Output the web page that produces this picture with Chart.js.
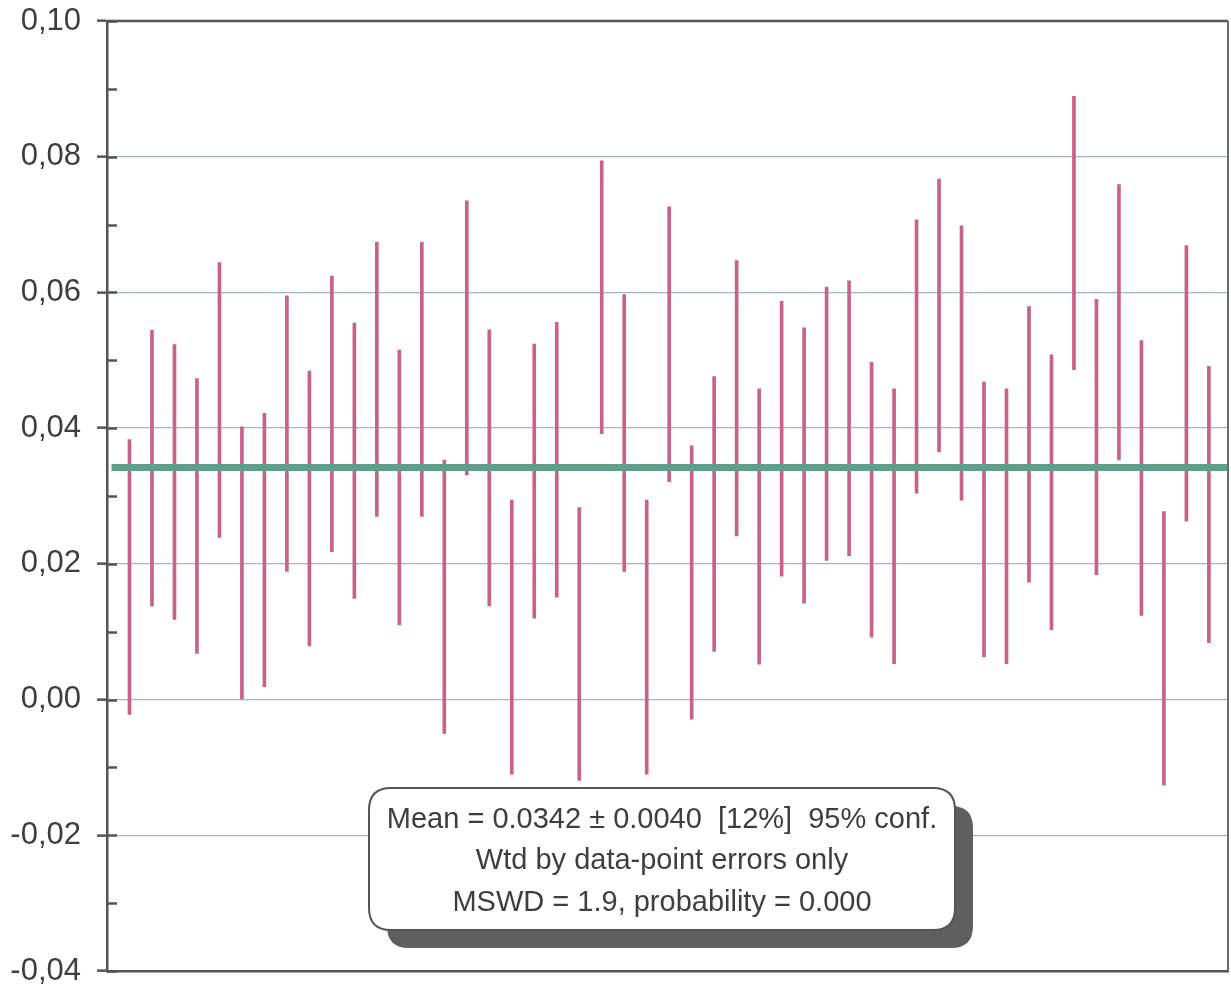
<!DOCTYPE html>
<html>
<head>
<meta charset="utf-8">
<script src="https://cdn.jsdelivr.net/npm/chart.js@4"></script>
<style>
html,body{margin:0;padding:0;background:#ffffff;}
canvas{display:block;}
</style>
</head>
<body>
<canvas id="c" width="1231" height="989"></canvas>
<script>
// ---- data ----
const pointIndex = [1,2,3,4,5,6,7,8,9,10,11,12,13,14,15,16,17,18,19,20,21,22,23,24,25,26,27,28,29,30,31,32,33,34,35,36,37,38,39,40,41,42,43,44,45,46,47,48,49];
const lowValues = [-0.0022,0.0138,0.0118,0.0068,0.0239,0.0000,0.0019,0.0189,0.0079,0.0218,0.0149,0.0270,0.0110,0.0270,-0.0050,0.0331,0.0138,-0.0110,0.0120,0.0151,-0.0119,0.0392,0.0189,-0.0110,0.0321,-0.0029,0.0071,0.0241,0.0052,0.0182,0.0142,0.0205,0.0212,0.0092,0.0053,0.0304,0.0365,0.0294,0.0063,0.0053,0.0173,0.0103,0.0486,0.0184,0.0353,0.0124,-0.0126,0.0263,0.0084];
const highValues = [0.0383,0.0544,0.0523,0.0473,0.0644,0.0402,0.0422,0.0595,0.0484,0.0624,0.0555,0.0674,0.0515,0.0674,0.0353,0.0735,0.0545,0.0294,0.0524,0.0556,0.0283,0.0794,0.0597,0.0294,0.0726,0.0374,0.0476,0.0647,0.0458,0.0587,0.0548,0.0608,0.0617,0.0497,0.0458,0.0707,0.0767,0.0698,0.0468,0.0458,0.0579,0.0508,0.0889,0.0590,0.0759,0.0529,0.0277,0.0669,0.0491];
const meanValue = 0.0342;
const meanSpan = [0.2, 49.85];
const yTickLabels = ['-0,04','-0,02','0,00','0,02','0,04','0,06','0,08','0,10'];
const annotationLines = [
  'Mean = 0.0342 \u00b1 0.0040  [12%]  95% conf.',
  'Wtd by data-point errors only',
  'MSWD = 1.9, probability = 0.000'
];

const errorBarData = pointIndex.map((x, i) => ({x: x, y: [lowValues[i], highValues[i]]}));
const meanLineData = meanSpan.map(x => ({x: x, y: meanValue}));

const isMajor = v => Math.abs(Math.round(v * 100)) % 2 === 0;

const framePlugin = {
  id: 'frame',
  afterDatasetsDraw(chart) {
    const {ctx, chartArea: a} = chart;
    const ys = chart.scales.y;
    ctx.save();
    ctx.strokeStyle = '#555555';
    ctx.lineWidth = 2.5;
    // inner tick stubs
    ys.ticks.forEach(t => {
      const py = Math.round(ys.getPixelForValue(t.value)) + 0.5;
      ctx.beginPath();
      ctx.moveTo(a.left, py);
      ctx.lineTo(a.left + 10, py);
      ctx.stroke();
    });
    // top and right frame
    ctx.beginPath();
    ctx.moveTo(a.left, a.top);
    ctx.lineTo(a.right, a.top);
    ctx.stroke();
    ctx.strokeStyle = '#6a6a6a';
    ctx.lineWidth = 2;
    ctx.beginPath();
    ctx.moveTo(a.right, a.top);
    ctx.lineTo(a.right, a.bottom);
    ctx.stroke();
    ctx.restore();
  }
};

function roundRectPath(ctx, x, y, w, h, r) {
  ctx.beginPath();
  ctx.moveTo(x + r, y);
  ctx.lineTo(x + w - r, y);
  ctx.quadraticCurveTo(x + w, y, x + w, y + r);
  ctx.lineTo(x + w, y + h - r);
  ctx.quadraticCurveTo(x + w, y + h, x + w - r, y + h);
  ctx.lineTo(x + r, y + h);
  ctx.quadraticCurveTo(x, y + h, x, y + h - r);
  ctx.lineTo(x, y + r);
  ctx.quadraticCurveTo(x, y, x + r, y);
  ctx.closePath();
}

const statsBoxPlugin = {
  id: 'statsBox',
  afterDraw(chart) {
    const {ctx, chartArea: a} = chart;
    const bx = a.left + 262, by = a.top + 767, bw = 586, bh = 142, r = 22, off = 18;
    ctx.save();
    ctx.fillStyle = '#5f5f5f';
    roundRectPath(ctx, bx + off, by + off, bw, bh, r);
    ctx.fill();
    ctx.fillStyle = '#ffffff';
    roundRectPath(ctx, bx, by, bw, bh, r);
    ctx.fill();
    ctx.strokeStyle = '#555555';
    ctx.lineWidth = 2;
    ctx.stroke();
    ctx.fillStyle = '#3e3e3e';
    ctx.font = '29px "Liberation Sans", Arial, sans-serif';
    ctx.textAlign = 'center';
    ctx.textBaseline = 'alphabetic';
    const cx = bx + 293;
    const baselines = [by + 40, by + 81, by + 123];
    annotationLines.forEach((t, i) => ctx.fillText(t, cx, baselines[i]));
    ctx.restore();
  }
};

new Chart(document.getElementById('c'), {
  type: 'bar',
  data: {
    datasets: [
      {
        type: 'line',
        data: meanLineData,
        borderColor: '#5f9f87',
        borderWidth: 7,
        pointRadius: 0,
        fill: false,
        order: 0
      },
      {
        type: 'bar',
        data: errorBarData,
        backgroundColor: '#c8628a',
        borderWidth: 0,
        barThickness: 3,
        order: 1
      }
    ]
  },
  options: {
    responsive: false,
    animation: false,
    events: [],
    layout: {padding: {top: 21, right: 3, bottom: 18, left: 0}},
    plugins: {legend: {display: false}, tooltip: {enabled: false}},
    scales: {
      x: {
        type: 'linear',
        min: 0,
        max: 49.85,
        offset: false,
        ticks: {display: false},
        grid: {display: false, drawTicks: false},
        border: {display: true, color: '#555555', width: 2.5},
        afterFit(scale) {
          scale.height = 0;
          scale.paddingLeft = 0; scale.paddingRight = 0;
        }
      },
      y: {
        type: 'linear',
        min: -0.04,
        max: 0.10,
        afterFit(scale) {
          scale.width = 107;
          scale.paddingTop = 0; scale.paddingBottom = 0;
        },
        ticks: {
          stepSize: 0.01,
          autoSkip: false,
          padding: 16,
          color: '#3e3e3e',
          font: {family: '"Liberation Sans", Arial, sans-serif', size: 31},
          callback: function(value, index) {
            return isMajor(value) ? yTickLabels[index / 2] : '';
          }
        },
        grid: {
          color: ctx => (ctx.tick && isMajor(ctx.tick.value)) ? '#9fb9c2' : 'rgba(0,0,0,0)',
          lineWidth: 1.3,
          drawTicks: true,
          tickLength: 10,
          tickWidth: 2.5,
          tickColor: ctx => (ctx.tick && isMajor(ctx.tick.value)) ? '#555555' : 'rgba(0,0,0,0)'
        },
        border: {display: true, color: '#555555', width: 2.5}
      }
    }
  },
  plugins: [framePlugin, statsBoxPlugin]
});
</script>
</body>
</html>
